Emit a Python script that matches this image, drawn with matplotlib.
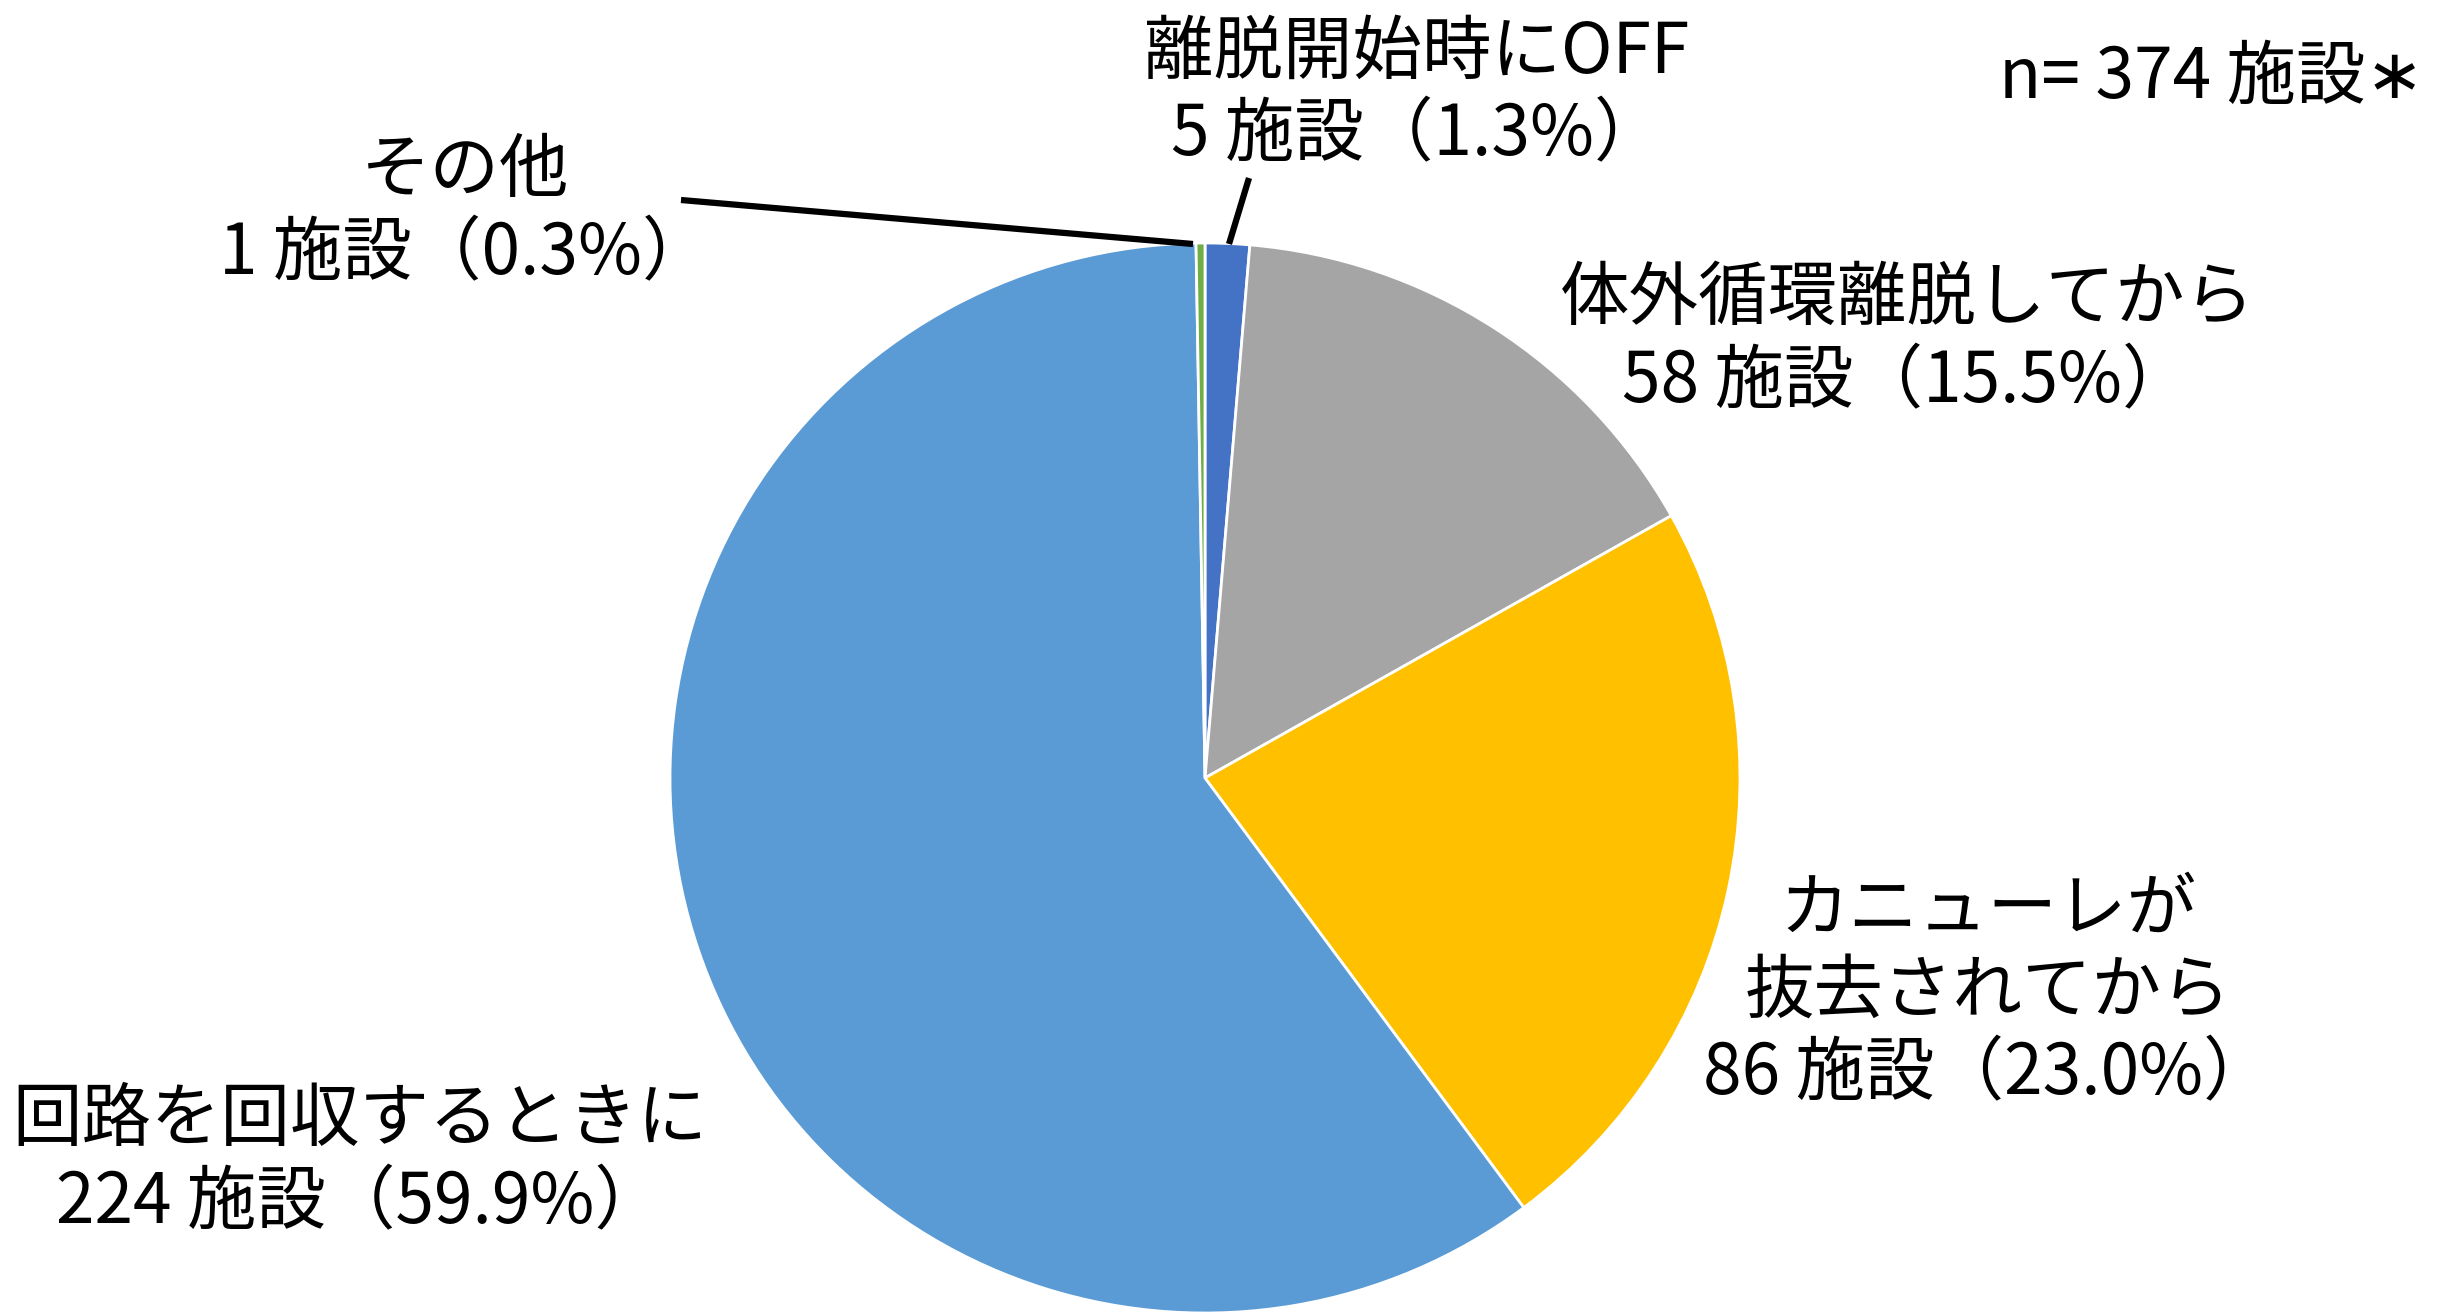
import matplotlib
matplotlib.use("Agg")
import matplotlib.pyplot as plt

plt.rcParams['font.family'] = ['Noto Sans CJK JP', 'DejaVu Sans']

# data (clockwise from 12 o'clock)
names  = ['離脱開始時にOFF', '体外循環離脱してから', 'カニューレが\n抜去されてから', '回路を回収するときに', 'その他']
counts = [5, 58, 86, 224, 1]
pcts   = ['1.3', '15.5', '23.0', '59.9', '0.3']
colors = ['#4472C4', '#A5A5A5', '#FFC000', '#5B9BD5', '#70AD47']
n_total = 374

W, H = 2455, 1316
fig = plt.figure(figsize=(W/100, H/100), dpi=100)
ax = fig.add_axes([0, 0, 1, 1])
ax.set_aspect('equal')

cx, cy, r = 1205, H - 778, 535
ax.pie(counts, colors=colors, startangle=90, counterclock=False,
       center=(cx, cy), radius=r, frame=True,
       wedgeprops=dict(edgecolor='white', linewidth=2))
ax.set_xlim(0, W)
ax.set_ylim(0, H)
ax.axis('off')

fs = 50
# label positions in pixels (x, y from top)
pos = [(1417, 94), (1907, 341), (1988, 992), (360, 1162), (465, 213)]
for name, c, p, (x, y) in zip(names, counts, pcts, pos):
    txt = f'{name}\n{c} 施設（{p}%）'
    ax.text(x, H - y, txt, ha='center', va='center', fontsize=fs,
            linespacing=1.2)

# leader lines
ax.plot([681, 1193], [H - 200, H - 244], color='black', lw=4.5, solid_capstyle='butt')
ax.plot([1249, 1229], [H - 178, H - 244], color='black', lw=4.5, solid_capstyle='butt')

ax.text(2424, H - 78, f'n= {n_total} 施設∗', ha='right', va='center', fontsize=fs)

fig.savefig('out.png', dpi=100)
